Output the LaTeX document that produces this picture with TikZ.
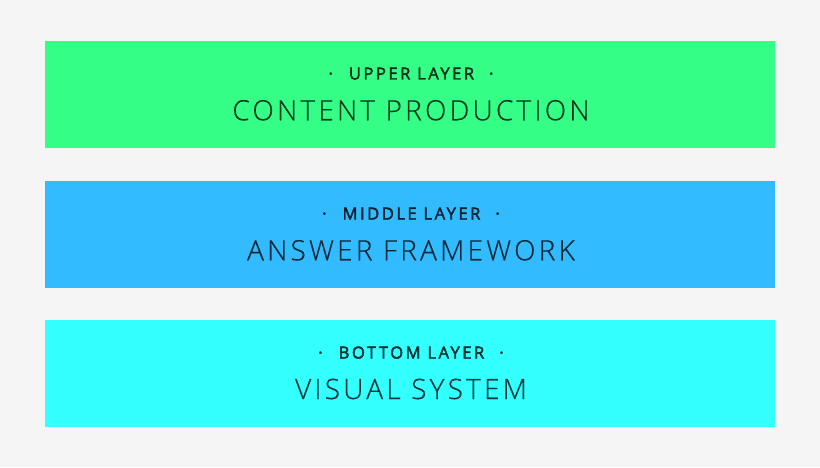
\documentclass[tikz,border=0pt]{standalone}
\usepackage{fontspec}
\setmainfont{Open Sans}
\newfontfamily\titlef{Open Sans Light}[LetterSpace=11.5, FakeBold=0.4]
\newfontfamily\labelf{Open Sans}[LetterSpace=15, FakeBold=2.5]
\definecolor{pagebg}{HTML}{F5F5F5}
\definecolor{upperc}{HTML}{35FE87}
\definecolor{middlec}{HTML}{33BBFF}
\definecolor{bottomc}{HTML}{33FFFF}
\tikzset{
  layerbar/.style={fill=#1, draw=none},
  smalllabel/.style={anchor=base, inner sep=0pt, text=black, text opacity=0.75, font=\labelf\fontsize{16.6}{19}\selectfont},
  biglabel/.style={anchor=base, inner sep=0pt, text=black, text opacity=0.75, font=\titlef\fontsize{28}{32}\selectfont},
}
\begin{document}
\begin{tikzpicture}[x=1pt,y=1pt]
\fill[pagebg] (0,0) rectangle (820,467);
\useasboundingbox (0,0) rectangle (820,467);
% upper
\fill[layerbar=upperc] (45,426) rectangle (775,319);
\node[smalllabel] (upl) at (411,387.5) {·\hspace{16pt}UPPER LAYER\hspace{15pt}·};
\node[biglabel] (upb) at (411,346.7) {CONTENT PRODUCTION};
% middle
\fill[layerbar=middlec] (45,286) rectangle (775,179);
\node[smalllabel] (mil) at (411,247.5) {·\hspace{16pt}MIDDLE LAYER\hspace{15pt}·};
\node[biglabel] (mib) at (411,206.7) {ANSWER FRAMEWORK};
% bottom
\fill[layerbar=bottomc] (45,147) rectangle (775,40);
\node[smalllabel] (bol) at (411,108.5) {·\hspace{16pt}BOTTOM LAYER\hspace{15pt}·};
\node[biglabel] (bob) at (411,68) {VISUAL SYSTEM};
\end{tikzpicture}
\end{document}
